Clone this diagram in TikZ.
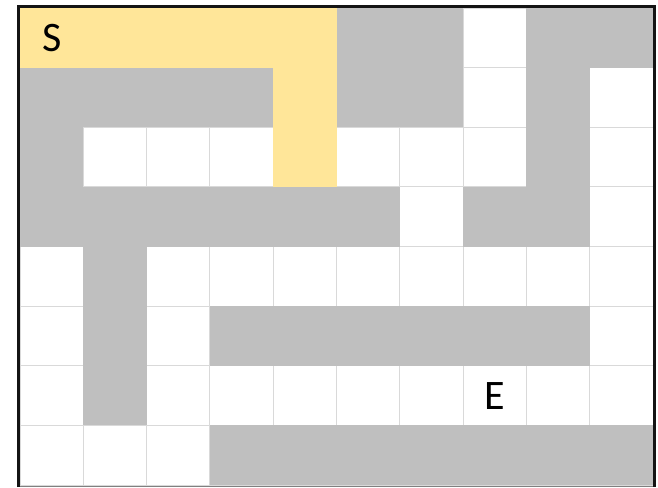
\documentclass[tikz,border=0pt]{standalone}
\usepackage{fontspec}
\setmainfont{Carlito}
\definecolor{wallgray}{HTML}{BFBFBF}
\definecolor{pathyellow}{HTML}{FFE699}
\definecolor{gridline}{HTML}{D9D9D9}
\definecolor{frame}{HTML}{141414}
\tikzset{
  cY/.style={fill=pathyellow},
  cG/.style={fill=wallgray},
  cW/.style={},
  label text/.style={font=\fontsize{42}{50}\selectfont, text=black, inner sep=0pt},
}
\begin{document}
\begin{tikzpicture}[x=1pt,y=-1pt]
\useasboundingbox (0,0) rectangle (658,487);
\fill[white] (0,0) rectangle (658,487);
% base grid of white cells
\foreach \r in {0,...,7}{
  \foreach \k in {0,...,9}{
    \draw[gridline, line width=0.9pt, fill=white] ({20+63.3*\k},{8+59.625*\r}) rectangle ({20+63.3*(\k+1)},{8+59.625*(\r+1)});
  }
}
% coloured cells
\foreach \row [count=\r from 0] in {
  {Y,Y,Y,Y,Y,G,G,W,G,G},
  {G,G,G,G,Y,G,G,W,G,W},
  {G,W,W,W,Y,W,W,W,G,W},
  {G,G,G,G,G,G,W,G,G,W},
  {W,G,W,W,W,W,W,W,W,W},
  {W,G,W,G,G,G,G,G,G,W},
  {W,G,W,W,W,W,W,W,W,W},
  {W,W,W,G,G,G,G,G,G,G}}{
  \foreach \c [count=\k from 0] in \row {
    \path[c\c] ({20+63.3*\k},{8+59.625*\r}) rectangle ({20+63.3*(\k+1)},{8+59.625*(\r+1)});
  }
}
% labels
\node[label text] (S) at ({20+63.3*0.5},{8+59.625*0.5}) {S};
\node[label text] (E) at ({20+63.3*7.5},{8+59.625*6.5}) {E};
% frame
\draw[gray, line width=1pt] (18.5,486) -- (654,486);
\draw[frame, line width=3pt] (18.5,487) -- (18.5,6.5) -- (654,6.5) -- (654,487);
\end{tikzpicture}
\end{document}
